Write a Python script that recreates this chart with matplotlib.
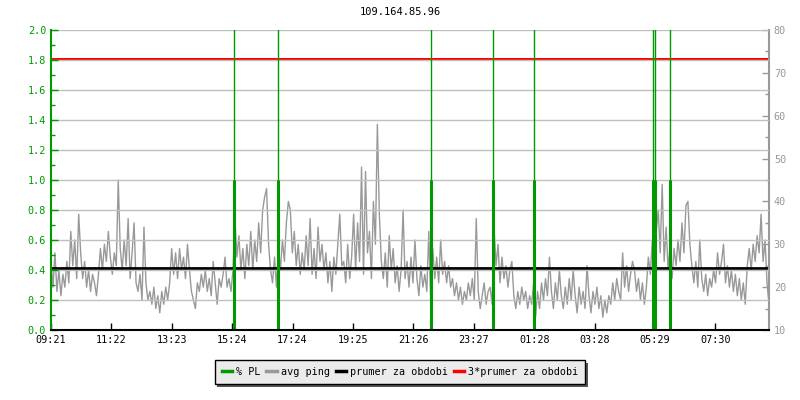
import numpy as np
import matplotlib
matplotlib.use("Agg")
import matplotlib.pyplot as plt

plt.rcParams['font.family'] = ['DejaVu Sans Mono']
plt.rcParams['font.size'] = 7.3

title = "109.164.85.96"

# time axis: minutes since 09:21
span_min = 1436
tick_step = 120.8
tick_labels = ["09:21", "11:22", "13:23", "15:24", "17:24", "19:25",
               "21:26", "23:27", "01:28", "03:28", "05:29", "07:30"]

# avg ping [ms] (right axis)
avg_ping = [
    26, 20, 28, 19, 24, 18, 23, 20, 26, 21, 33, 25, 31, 22, 37, 28, 22, 26, 20, 24,
    19, 23, 21, 18, 23, 29, 24, 30, 26, 33, 27, 23, 28, 25, 45, 29, 24, 31, 25, 36,
    22, 28, 35, 21, 19, 23, 17, 34, 21, 17, 19, 16, 20, 15, 18, 14, 19, 16, 20, 17,
    21, 29, 23, 28, 22, 29, 24, 27, 22, 30, 24, 19, 17, 15,
    21, 19, 23, 20, 24, 19, 22, 18, 26, 21, 16, 22, 20, 23, 27, 20, 22, 19, 24, 36,
    27, 32, 24, 29, 22, 30, 25, 33, 24, 31, 26, 35, 28, 38, 41, 43, 30, 24, 21, 27,
    20, 29, 24, 31, 26, 35, 40, 38, 28, 33, 25, 30, 23, 28, 24, 32, 25, 36, 23, 29,
    22, 34, 26, 30, 24, 28, 21, 26, 19, 27, 23, 30, 37, 25,
    26, 21, 30, 22, 27, 37, 24, 35, 26, 48, 23, 47, 28, 33, 22, 40, 30, 58, 37, 26,
    22, 28, 20, 32, 24, 29, 21, 25, 19, 24, 38, 22, 26, 20, 27, 21, 31, 22, 18, 25,
    20, 23, 19, 33, 16, 29, 22, 27, 21, 31, 23, 26, 21, 25, 20, 22, 18, 21, 17, 20,
    16, 19, 17, 21, 18, 22, 17, 36, 19, 15, 18, 21, 16, 19,
    20, 16, 34, 25, 30, 21, 27, 22, 25, 20, 24, 26, 18, 15, 19, 16, 20, 17, 19, 15,
    18, 16, 21, 13, 19, 15, 21, 17, 22, 18, 27, 19, 15, 21, 17, 24, 18, 15, 20, 16,
    22, 17, 24, 18, 14, 20, 16, 19, 15, 25, 18, 14, 19, 16, 20, 15, 18, 13, 17, 14,
    18, 16, 21, 17, 22, 19, 17, 28, 20, 25, 19, 23, 26,
    24, 19, 22, 17, 21, 16, 20, 27, 23, 31, 25, 33, 38, 28, 44, 26, 34, 24, 30, 22,
    29, 25, 31, 26, 35, 28, 39, 40, 30, 25, 21, 26, 20, 31, 22, 19, 23, 18, 22, 20,
    24, 21, 28, 23, 26, 30, 21, 25, 20, 24, 19, 23, 18, 22, 17, 21, 16, 25, 29, 24,
    30, 26, 32, 28, 37, 26, 31, 21, 16,
]
mean_ping = 24.4

# packet loss events [minutes since start]
pl_times = [366, 454, 760, 884, 966, 1203, 1207, 1238]
pl_values = [1.0, 1.0, 1.0, 1.0, 1.0, 1.0, 1.0, 1.0]

green = '#009a00'
gray = '#999999'

fig = plt.figure(figsize=(8, 4), dpi=100)
ax = fig.add_axes([51 / 800, 70 / 400, 718 / 800, 300 / 400])
ax2 = ax.twinx()
ax2.set_zorder(ax.get_zorder() - 1)
ax.patch.set_visible(False)

t = np.linspace(0, span_min, len(avg_ping))
ax2.plot(t, avg_ping, color=gray, lw=1)
ax2.axhline(mean_ping, color='black', lw=2)
ax2.axhline(3 * mean_ping, color='red', lw=1, antialiased=False)

for tt, v in zip(pl_times, pl_values):
    ax.axvline(tt, color=green, lw=1)
    ax.vlines(tt, 0, v, color=green, lw=2.2)

ax.set_xlim(0, span_min)
ax.set_ylim(0, 2.0)
ax2.set_ylim(10, 80)

ax.set_yticks(np.arange(0, 2.01, 0.2))
ax.set_yticks(np.arange(0.1, 2.0, 0.2), minor=True)
ax.set_yticklabels([f"{v:.1f}" for v in np.arange(0, 2.01, 0.2)])
ax.yaxis.grid(True, color='#c0c0c0', lw=1)
ax.tick_params(axis='y', which='both', direction='in', colors=green, length=5, width=1)
ax.tick_params(axis='y', which='minor', length=3)

ax2.set_yticks(np.arange(10, 81, 10))
ax2.set_yticks(np.arange(15, 80, 10), minor=True)
ax2.tick_params(axis='y', which='both', direction='in', colors=gray, length=5, width=1)
ax2.tick_params(axis='y', which='minor', length=3)

ax.set_xticks(np.arange(len(tick_labels)) * tick_step)
ax.set_xticklabels(tick_labels)
ax.tick_params(axis='x', direction='in', length=5, width=1, colors='black')

for a in (ax, ax2):
    a.spines['top'].set_visible(False)
ax.spines['right'].set_visible(False)
ax2.spines['left'].set_visible(False)
ax2.spines['bottom'].set_visible(False)
ax.spines['left'].set_color(green)
ax.spines['left'].set_linewidth(1.5)
ax.spines['bottom'].set_linewidth(1.5)
ax2.spines['right'].set_color(gray)
ax2.spines['right'].set_linewidth(1.5)

fig.text(0.5, 1 - 12 / 400, title, ha='center', va='center', fontsize=7.5)

handles = [plt.Line2D([], [], color=c, lw=2.5) for c in (green, gray, 'black', 'red')]
leg = fig.legend(handles, ["% PL", "avg ping", "prumer za obdobi", "3*prumer za obdobi"],
                 loc='center', bbox_to_anchor=(0.5, 1 - 372 / 400), ncol=4,
                 handlelength=1.0, handletextpad=0.4, columnspacing=0.6,
                 borderpad=0.7, fancybox=False, frameon=True,
                 shadow={'facecolor': '#555555', 'edgecolor': 'none', 'alpha': 1})
leg.get_frame().set_facecolor('#ebebeb')
leg.get_frame().set_edgecolor('black')
leg.get_frame().set_alpha(1)
leg.get_frame().set_linewidth(1)

fig.savefig("out.png", dpi=100)
